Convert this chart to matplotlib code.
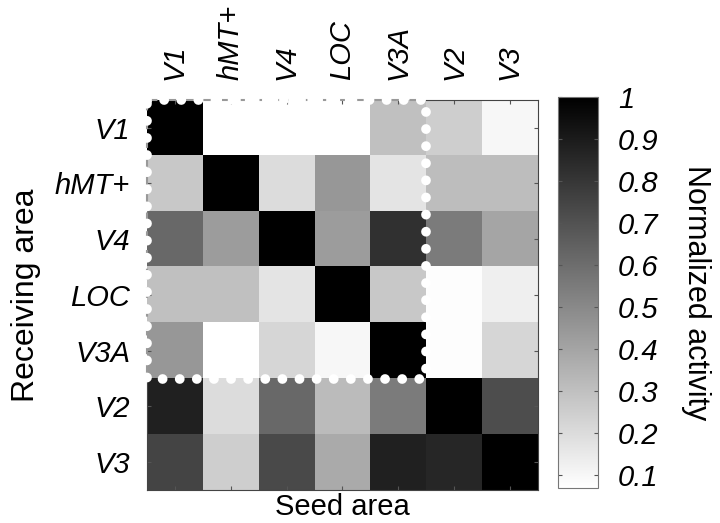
import matplotlib
matplotlib.use("Agg")
import matplotlib.pyplot as plt
import numpy as np

plt.rcParams['font.family'] = ['Liberation Sans', 'DejaVu Sans']

# 区域名称
areas = ["V1", "hMT+", "V4", "LOC", "V3A", "V2", "V3"]

# 每一行: receiving area, 每一列: seed area
row_V1 = [1.00, 0.07, 0.07, 0.07, 0.30, 0.25, 0.10]
row_hMT = [0.27, 1.00, 0.20, 0.45, 0.17, 0.31, 0.31]
row_V4 = [0.62, 0.43, 1.00, 0.43, 0.82, 0.55, 0.40]
row_LOC = [0.30, 0.30, 0.17, 1.00, 0.27, 0.08, 0.13]
row_V3A = [0.45, 0.07, 0.22, 0.10, 1.00, 0.08, 0.22]
row_V2 = [0.88, 0.20, 0.62, 0.32, 0.55, 1.00, 0.72]
row_V3 = [0.75, 0.25, 0.73, 0.38, 0.88, 0.86, 1.00]

cbar_ticks = [0.1, 0.2, 0.3, 0.4, 0.5, 0.6, 0.7, 0.8, 0.9, 1]
cbar_labels = ["0.1", "0.2", "0.3", "0.4", "0.5", "0.6", "0.7", "0.8", "0.9", "1"]

mat = np.array([row_V1, row_hMT, row_V4, row_LOC, row_V3A, row_V2, row_V3])
n = len(areas)

fig = plt.figure(figsize=(7.2, 5.23), dpi=100)
ax = fig.add_axes([0.204, 0.063, 0.543, 0.746])
cax = fig.add_axes([0.775, 0.067, 0.056, 0.747])

im = ax.imshow(mat, cmap="gray_r", vmin=0.07, vmax=1.0, aspect="auto",
               interpolation="nearest")

ax.set_xticks(range(n))
ax.set_yticks(range(n))
ax.set_xticklabels(areas, rotation=90, fontstyle="italic", fontsize=21)
ax.set_yticklabels(areas, fontstyle="italic", fontsize=21)
ax.xaxis.tick_top()
ax.tick_params(axis="both", direction="in", length=3, color="#555555",
               top=True, bottom=True, left=True, right=True)
ax.tick_params(axis="x", pad=14)
ax.tick_params(axis="y", pad=12)
ax.set_xlabel("Seed area", fontsize=21, labelpad=2)
ax.xaxis.set_label_position("bottom")
ax.set_ylabel("Receiving area", fontsize=23, labelpad=10)
for s in ax.spines.values():
    s.set_color("#444444")
    s.set_linewidth(0.8)
ax.spines["top"].set_visible(False)
ax.spines["left"].set_visible(False)

# 外框: 5x5 区块上边和左边为灰色虚线, 其余实线
ax.plot([-0.5, 4.5], [-0.5, -0.5], color="#999999", lw=1.5, ls=(0, (5, 4)), clip_on=False)
ax.plot([4.5, n - 0.5], [-0.5, -0.5], color="#444444", lw=0.8, clip_on=False)
ax.plot([-0.5, -0.5], [-0.5, 4.5], color="#999999", lw=1.5, ls=(0, (5, 4)), clip_on=False)
ax.plot([-0.5, -0.5], [4.5, n - 0.5], color="#444444", lw=0.8, clip_on=False)

# 白色圆点虚线框住前5个区域
bx = [-0.5, 4.5, 4.5, -0.5, -0.5]
by = [-0.5, -0.5, 4.5, 4.5, -0.5]
ax.plot(bx, by, color="white", lw=7, ls=(0, (0.01, 1.75)),
        dash_capstyle="round", clip_on=False)
ax.set_xlim(-0.5, n - 0.5)
ax.set_ylim(n - 0.5, -0.5)

cb = fig.colorbar(im, cax=cax, ticks=cbar_ticks)
cb.ax.set_yticklabels(cbar_labels, fontstyle="italic", fontsize=21)
cb.ax.tick_params(direction="in", length=3, color="#555555", pad=14,
                  left=True, right=True)
cb.outline.set_edgecolor("#777777")
cb.set_label("Normalized activity", rotation=270, fontsize=22, labelpad=38)

plt.savefig("out.png", dpi=100)
